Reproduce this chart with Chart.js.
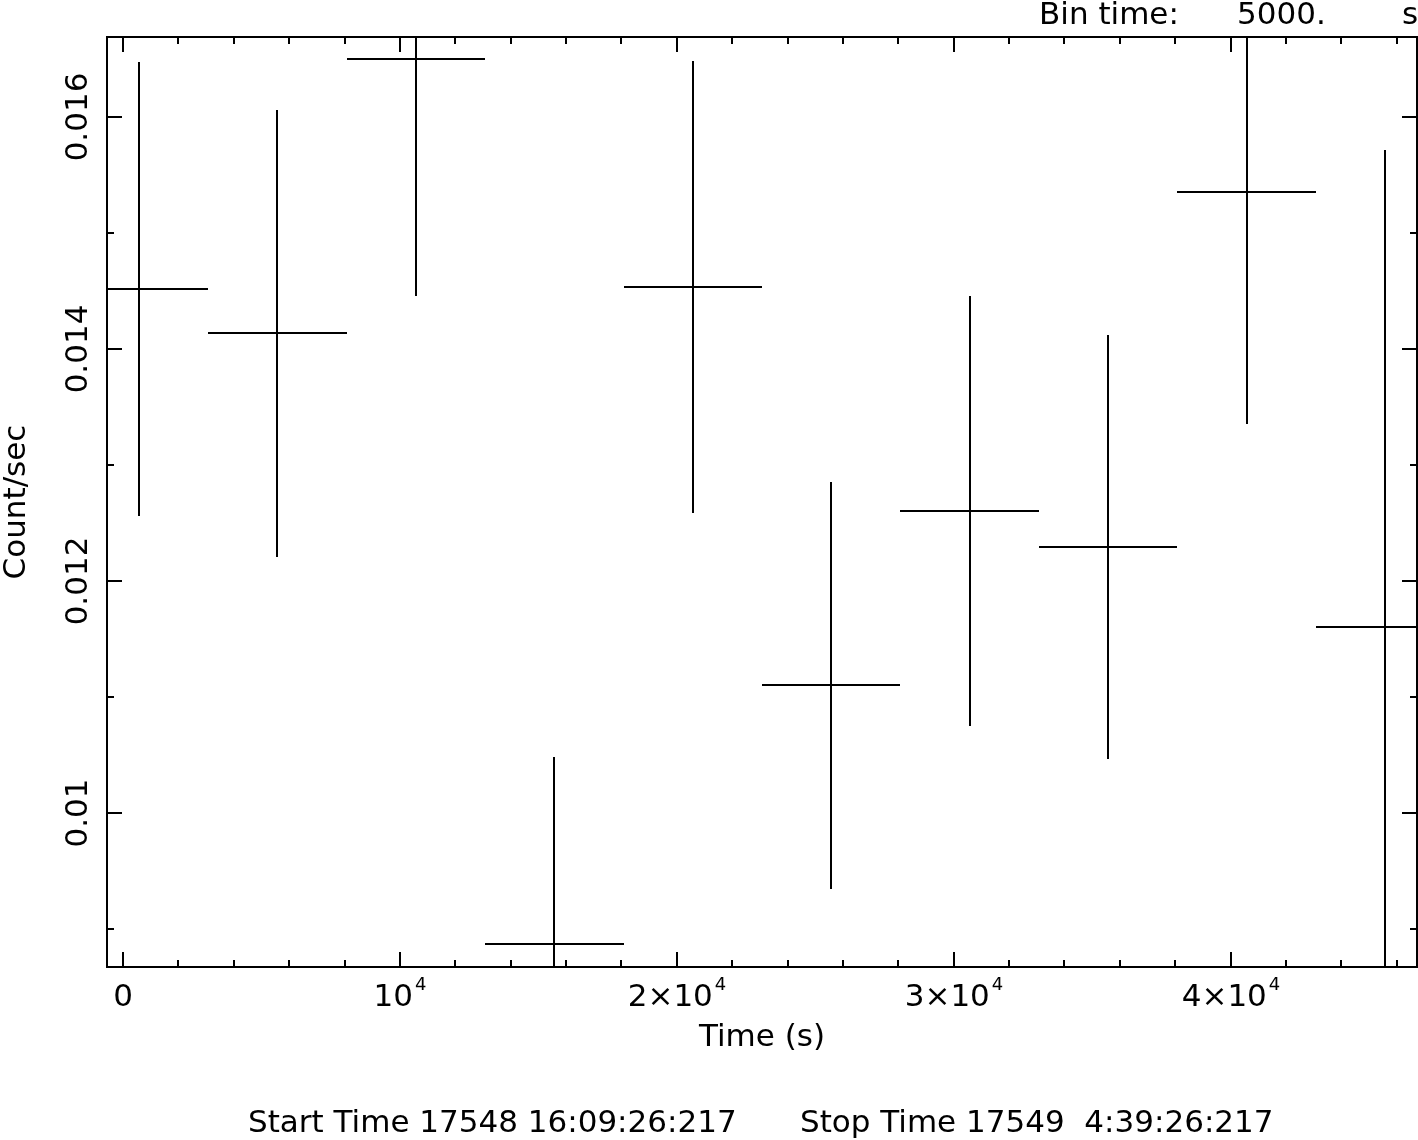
<!DOCTYPE html>
<html>
<head>
<meta charset="utf-8">
<script src="https://cdn.jsdelivr.net/npm/chart.js@4.4.1/dist/chart.umd.min.js"></script>
<style>
  html, body { margin: 0; padding: 0; background: #fff; }
  #wrap { width: 1418px; height: 1140px; }
</style>
</head>
<body>
<div id="wrap"><canvas id="lc" width="1418" height="1140"></canvas></div>
<script>
// Light curve, 5000 s bins
var binTimes = [575, 5575, 10575, 15575, 20575, 25575, 30575, 35575, 40575, 45575];
var binHalf = 2500;
var rates = [0.014515, 0.014135, 0.016497, 0.008868, 0.014532, 0.011101, 0.012601, 0.012291, 0.015351, 0.011601];
var rateErrors = [0.001957, 0.001927, 0.002043, 0.001612, 0.001948, 0.001754, 0.001853, 0.001828, 0.002000, 0.004115];

// Axis ticks
var xMajor = [0, 10000, 20000, 30000, 40000];
var xMajorLabels = [["0", ""], ["10", "4"], ["2\u00d710", "4"], ["3\u00d710", "4"], ["4\u00d710", "4"]];
var xMinor = [2000, 4000, 6000, 8000, 12000, 14000, 16000, 18000, 22000, 24000, 26000, 28000,
              32000, 34000, 36000, 38000, 42000, 44000, 46000];
var yMajor = [0.010, 0.012, 0.014, 0.016];
var yMajorLabels = ["0.01", "0.012", "0.014", "0.016"];
var yMinor = [0.009, 0.011, 0.013, 0.015];

(function () {
  "use strict";

  var FONT = '"DejaVu Sans", sans-serif';
  var font = function (px) { return px + "px " + FONT; };

  // ── Frame, ticks, error bars and labels (PGPLOT look) ──────────
  var qdp = {
    id: "qdp",
    afterDatasetsDraw: function (chart) {
      var ctx = chart.ctx, a = chart.chartArea;
      var xs = chart.scales.x, ys = chart.scales.y;
      var X = function (v) { return Math.round(xs.getPixelForValue(v)); };
      var Y = function (v) { return Math.round(ys.getPixelForValue(v)); };

      ctx.save();
      ctx.strokeStyle = "#000";
      ctx.fillStyle = "#000";
      ctx.lineWidth = 2;

      // error bars, clipped to the box
      ctx.save();
      ctx.beginPath();
      ctx.rect(a.left, a.top, a.right - a.left, a.bottom - a.top);
      ctx.clip();
      ctx.beginPath();
      binTimes.forEach(function (t, i) {
        var px = X(t), py = Y(rates[i]);
        ctx.moveTo(X(t - binHalf), py);
        ctx.lineTo(X(t + binHalf), py);
        ctx.moveTo(px, Y(rates[i] + rateErrors[i]));
        ctx.lineTo(px, Y(rates[i] - rateErrors[i]));
      });
      ctx.stroke();
      ctx.restore();

      // box
      ctx.strokeRect(a.left, a.top, a.right - a.left, a.bottom - a.top);

      // ticks on all four sides
      ctx.beginPath();
      var xt = function (v, len) {
        var px = X(v);
        ctx.moveTo(px, a.bottom); ctx.lineTo(px, a.bottom - len);
        ctx.moveTo(px, a.top); ctx.lineTo(px, a.top + len);
      };
      var yt = function (v, len) {
        var py = Y(v);
        ctx.moveTo(a.left, py); ctx.lineTo(a.left + len, py);
        ctx.moveTo(a.right, py); ctx.lineTo(a.right - len, py);
      };
      xMajor.forEach(function (v) { xt(v, 15); });
      xMinor.forEach(function (v) { xt(v, 7); });
      yMajor.forEach(function (v) { yt(v, 15); });
      yMinor.forEach(function (v) { yt(v, 7); });
      ctx.stroke();

      // x tick labels with superscript exponent
      ctx.textBaseline = "alphabetic";
      ctx.textAlign = "left";
      xMajor.forEach(function (v, i) {
        var main = xMajorLabels[i][0], sup = xMajorLabels[i][1];
        ctx.font = font(31);
        var wm = ctx.measureText(main).width;
        ctx.font = font(18);
        var ws = sup ? ctx.measureText(sup).width + 2 : 0;
        var x0 = X(v) - (wm + ws) / 2;
        ctx.font = font(31);
        ctx.fillText(main, x0, 1006);
        if (sup) {
          ctx.font = font(18);
          ctx.fillText(sup, x0 + wm + 2, 990);
        }
      });

      // y tick labels, rotated
      ctx.font = font(31);
      ctx.textAlign = "center";
      yMajor.forEach(function (v, i) {
        ctx.save();
        ctx.translate(87, Y(v));
        ctx.rotate(-Math.PI / 2);
        ctx.fillText(yMajorLabels[i], 0, 0);
        ctx.restore();
      });

      // axis titles
      ctx.save();
      ctx.translate(25, (a.top + a.bottom) / 2);
      ctx.rotate(-Math.PI / 2);
      ctx.fillText("Count/sec", 0, 0);
      ctx.restore();
      ctx.fillText("Time (s)", (a.left + a.right) / 2, 1046);

      // header and footer
      ctx.textAlign = "left";
      ctx.fillText("Bin time:", 1039, 24);
      ctx.fillText("5000.", 1237, 24);
      ctx.fillText("s", 1402, 24);
      ctx.fillText("Start Time 17548 16:09:26:217", 248, 1132);
      ctx.fillText("Stop Time 17549  4:39:26:217", 800, 1132);

      ctx.restore();
    },
  };

  new Chart(document.getElementById("lc"), {
    type: "scatter",
    data: {
      datasets: [{
        data: binTimes.map(function (t, i) { return { x: t, y: rates[i] }; }),
        pointRadius: 0,
        showLine: false,
      }],
    },
    options: {
      responsive: false,
      devicePixelRatio: 1,
      animation: false,
      layout: { padding: { left: 107, top: 37, right: 1, bottom: 173 } },
      plugins: { legend: { display: false }, tooltip: { enabled: false } },
      scales: {
        x: { type: "linear", min: -578, max: 46730, display: false },
        y: { type: "linear", min: 0.0086724, max: 0.016690, display: false },
      },
    },
    plugins: [qdp],
  });
})();
</script>
</body>
</html>
